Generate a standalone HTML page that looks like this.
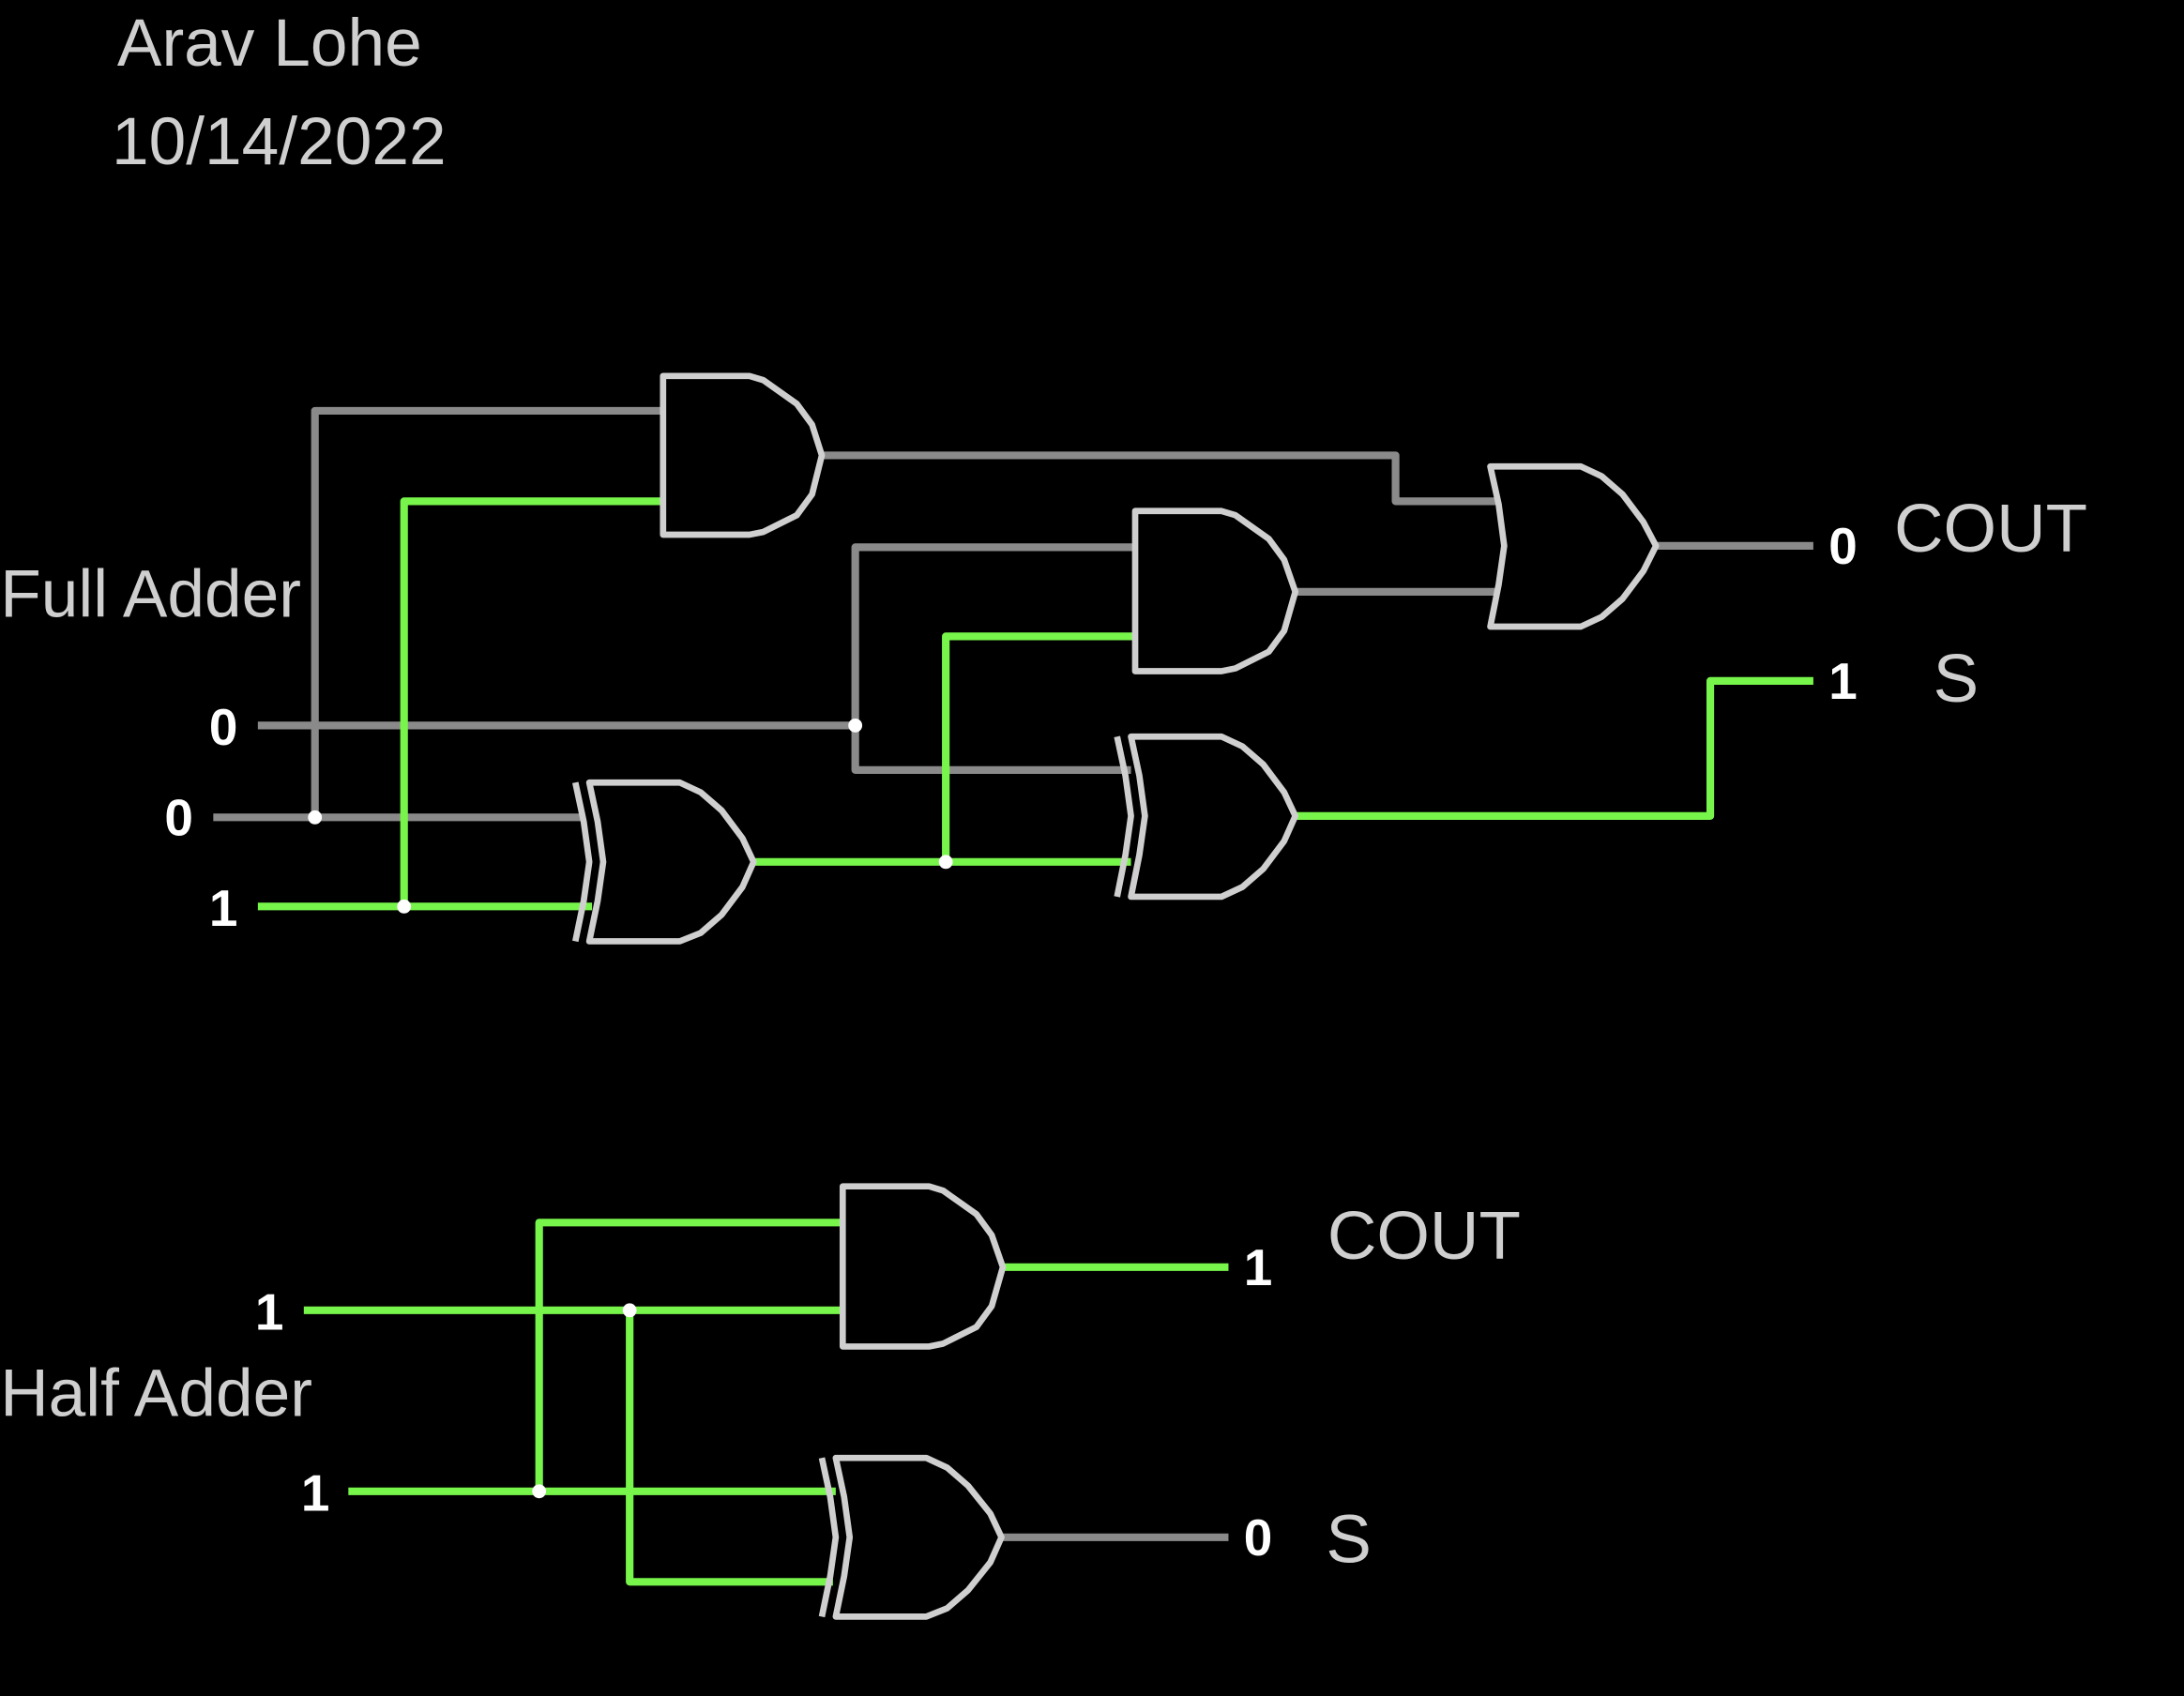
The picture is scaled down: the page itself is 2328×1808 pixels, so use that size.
<!DOCTYPE html>
<html><head><meta charset="utf-8">
<style>
html,body{margin:0;padding:0;background:#000;}
svg{display:block;}
text{font-family:"Liberation Sans",sans-serif;}
</style></head>
<body>
<svg width="2328" height="1808" viewBox="0 0 1568 1218" xmlns="http://www.w3.org/2000/svg">
<rect width="1568" height="1218" fill="#000"/>
<g fill="#cfcfcf" font-size="48">
<text x="84" y="47">Arav Lohe</text>
<text x="80" y="118">10/14/2022</text>
<text x="0" y="443">Full Adder</text>
<text x="0" y="1017">Half Adder</text>
</g>
<g fill="none" stroke="#8a8a8a" stroke-width="5.5" stroke-linejoin="round">
<polyline points="226,587 226,295 476,295"/>
<polyline points="185,521 614,521"/>
<polyline points="614,521 614,393 815,393"/>
<polyline points="614,521 614,553 812,553"/>
<polyline points="153,587 420,587"/>
<polyline points="590,327 1002,327 1002,360 1074,360"/>
<polyline points="930,425 1074,425"/>
<polyline points="1189,392 1302,392"/>
<polyline points="719,1104 882,1104"/>
</g>
<g fill="none" stroke="#77f54b" stroke-width="5.5" stroke-linejoin="round">
<polyline points="185,651 425,651"/>
<polyline points="290,651 290,360 476,360"/>
<polyline points="541,619 812,619"/>
<polyline points="679,619 679,457 815,457"/>
<polyline points="930,586 1228,586 1228,489 1302,489"/>
<polyline points="218,941 605,941"/>
<polyline points="452,941 452,1136 598,1136"/>
<polyline points="250,1071 600,1071"/>
<polyline points="387,1071 387,878 605,878"/>
<polyline points="720,910 882,910"/>
</g>
<g fill="#000" stroke="#cfcfcf" stroke-width="4.5" stroke-linejoin="round">
<path d="M476,270 L538,270 L548,273 L572,290 L583,305 L590,327 L583,355 L572,370 L548,382 L538,384 L476,384 Z"/>
<path d="M815,367 L877,367 L887,370 L911,387 L922,402 L930,425 L922,453 L911,468 L887,480 L877,482 L815,482 Z"/>
<path d="M605,852 L667,852 L677,855 L701,872 L712,887 L720,910 L712,938 L701,953 L677,965 L667,967 L605,967 Z"/>
<path d="M1070,335 L1135,335 L1150,342 L1165,355 L1180,375 L1189,392 L1180,410 L1165,430 L1150,443 L1135,450 L1070,450 L1076,420 L1080,392 L1076,362 Z"/>
<path d="M423,562 L488,562 L503,569 L518,582 L533,602 L541,619 L533,637 L518,657 L503,670 L488,676 L423,676 L429,647 L433,619 L429,590 Z"/>
<path fill="none" d="M413,562 L419,590 L423,619 L419,647 L413,676"/>
<path d="M812,529 L877,529 L892,536 L907,549 L922,569 L930,586 L922,604 L907,624 L892,637 L877,644 L812,644 L818,614 L822,586 L818,557 Z"/>
<path fill="none" d="M802,529 L808,557 L812,586 L808,614 L802,644"/>
<path d="M600,1047 L665,1047 L680,1054 L695,1067 L711,1087 L719,1104 L711,1122 L695,1142 L680,1155 L665,1161 L600,1161 L606,1132 L610,1104 L606,1075 Z"/>
<path fill="none" d="M590,1047 L596,1075 L600,1104 L596,1132 L590,1161"/>
</g>
<g fill="#fff">
<circle cx="226" cy="587" r="5"/>
<circle cx="614" cy="521" r="5"/>
<circle cx="290" cy="651" r="5"/>
<circle cx="679" cy="619" r="5"/>
<circle cx="452" cy="941" r="5"/>
<circle cx="387" cy="1071" r="5"/>
</g>
<g fill="#fff" font-size="37" font-weight="bold">
<text x="150" y="535">0</text>
<text x="118" y="600">0</text>
<text x="150" y="665">1</text>
<text x="183" y="955">1</text>
<text x="216" y="1085">1</text>
<text x="1313" y="405">0</text>
<text x="1313" y="502">1</text>
<text x="893" y="923">1</text>
<text x="893" y="1117">0</text>
</g>
<g fill="#cfcfcf" font-size="49">
<text x="1360" y="396">COUT</text>
<text x="1388" y="504">S</text>
<text x="953" y="904">COUT</text>
<text x="952" y="1122">S</text>
</g>
</svg>
</body></html>
